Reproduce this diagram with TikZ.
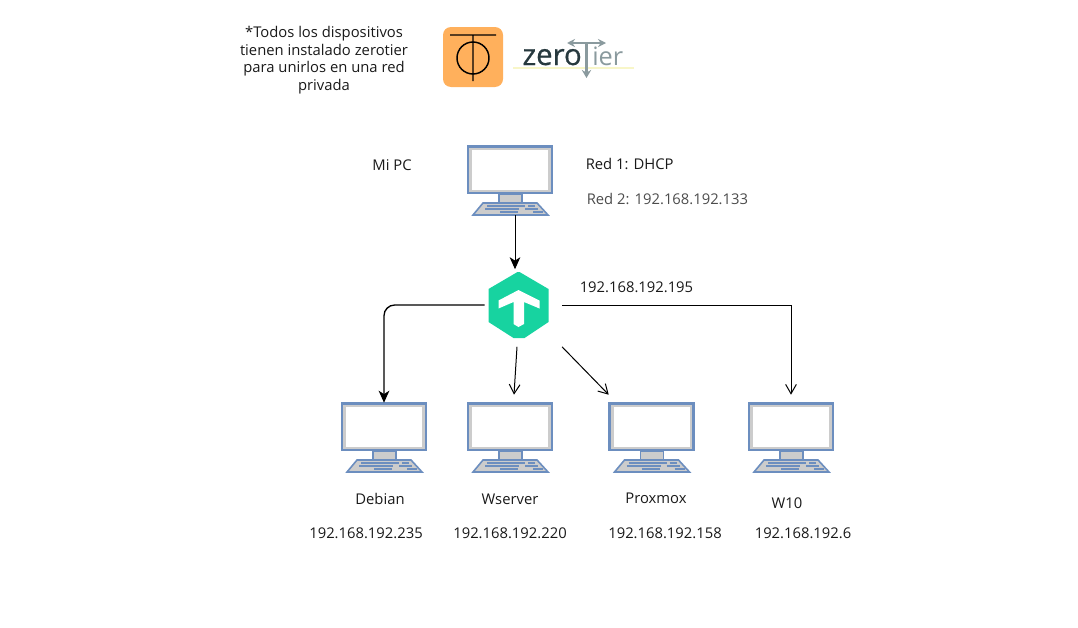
\documentclass[tikz,border=0pt]{standalone}
\usepackage{fontspec}
\setmainfont{Open Sans}
\usetikzlibrary{arrows.meta}
\definecolor{screenblue}{HTML}{6C8EBF}
\definecolor{screengray}{HTML}{CCCCCC}
\definecolor{hubgreen}{HTML}{17D3A0}
\definecolor{logoorange}{HTML}{FFB05C}
\definecolor{logodark}{HTML}{27393E}
\definecolor{logogray}{HTML}{8A9A9E}
\definecolor{logoyellow}{HTML}{F8F6C8}

\begin{document}
\begin{tikzpicture}[
    x=0.75pt, y=-0.75pt,
    every node/.style={font=\fontsize{11.1pt}{13.1pt}\selectfont, text=black!90},
    computer/.style={minimum width=64.5pt, minimum height=51.75pt, inner sep=0pt, text=white},
    hub/.style={minimum width=45.75pt, minimum height=50.25pt, inner sep=0pt},
    line/.style={black, line width=0.75pt},
    filledtip/.style={line, -{Stealth[length=9pt, width=8pt, inset=2.5pt]}},
    opentip/.style={line, -{Straight Barb[length=7pt, width=8pt]}},
    monitor/.pic={
        \draw[screenblue, line width=1.9pt, fill=screengray] (-42,-34) rectangle (42,12.5);
        \fill[white] (-38,-31) rectangle (38,9.5);
        \draw[screenblue, line width=1.2pt, fill=screengray] (-11,13.5) rectangle (12,22.5);
        \draw[screenblue, line width=1.2pt, fill=screengray] (-27,22.5) -- (27,22.5) -- (38,34.5) -- (-37,34.5) -- cycle;
        \draw[screenblue, line width=0.9pt] (-23,25.5) -- (15,25.5) (18,25.5) -- (25,25.5)
            (-25,28.5) -- (9,28.5) (15,28.5) -- (28,28.5)
            (-10,31.5) -- (8,31.5) (23,31.5) -- (33,31.5);
    },
    hubmark/.pic={
        \fill[hubgreen] (-30,-16) -- (-1,-33) -- (1,-33) -- (30,-16) -- (30,17) -- (6,33) -- (-5,33) -- (-30,17) -- cycle;
        \fill[white] (0,-15) -- (21,-4.5) -- (21,3.5) -- (5.5,-3) -- (5.5,19) -- (0,22) -- (-5,19) -- (-5,-3) -- (-20,3.5) -- (-20,-4.5) -- cycle;
    }
]
\useasboundingbox (0,0) rectangle (1078,628);

% Logos
\fill[logoorange, rounded corners=6pt] (443,27) rectangle (503,87);
\draw[black, line width=1.1pt] (450,35) -- (496,35) (473,35) -- (473,81) (473,58) circle (16);
\draw[logoyellow, line width=0.8pt] (513,68) -- (634,68);
\draw[logogray, line width=1.5pt, {Stealth[length=6pt, width=6pt]}-{Stealth[length=6pt, width=6pt]}] (567,43) -- (606,43);
\draw[logogray, line width=2pt, -{Stealth[length=6pt, width=7pt]}] (586.5,43) -- (586.5,78);
\node[inner sep=0pt, anchor=base east, text=logodark, font=\fontsize{22pt}{22pt}\selectfont\addfontfeature{FakeBold=0.7}] (zero) at (582,65) {zero};
\node[inner sep=0pt, anchor=base west, text=logogray, font=\fontsize{19pt}{22pt}\selectfont] (ier) at (592,65) {ier};

% Textos
\node[align=center] (nota) at (324,60) {*Todos los dispositivos\\tienen instalado zerotier\\para unirlos en una red\\privada};
\node (mipc) at (392,165) {Mi PC};
\node[anchor=west, inner sep=0pt] (red1) at (585.5,163.5) {Red 1: DHCP};
\node[anchor=west, inner sep=0pt, text=black!70] (red2) at (586.5,198.5) {Red 2: 192.168.192.133};
\node[anchor=west, inner sep=0pt] (hubip) at (579.5,287) {192.168.192.195};

% Equipos
\node[computer] (pc) at (510,180.5) {};
\node[computer] (debian) at (384,437.5) {};
\node[computer] (wserver) at (510,437.5) {};
\node[computer] (proxmox) at (651.5,437.5) {};
\node[computer] (wdiez) at (791,437.5) {};
\foreach \name in {pc,debian,wserver,proxmox,wdiez}
    \pic at (\name) {monitor};

\node[hub] (zt) at (518.5,305) {};
\pic at (zt) {hubmark};

\node (debianname) at (380,499) {Debian};
\node (wservername) at (510,499) {Wserver};
\node (proxmoxname) at (656,498) {Proxmox};
\node (wdiezname) at (787,503) {W10};
\node (debianip) at (366,533) {192.168.192.235};
\node (wserverip) at (510,533) {192.168.192.220};
\node (proxmoxip) at (665,533) {192.168.192.158};
\node (wdiezip) at (803,533) {192.168.192.6};

% Conexiones
\draw[filledtip] ([xshift=3.75pt]pc.south) -- ([shift={(-3.5,-2)}]zt.north);
\draw[filledtip, line width=1pt, rounded corners=8pt] ([xshift=-2.25pt]zt.west) -| (debian.north);
\draw[opentip] ([shift={(-1.5,8)}]zt.south) -- ([shift={(4,-8)}]wserver.north);
\draw[opentip] ([shift={(43.5,8)}]zt.south) -- ([shift={(0.5,-8)}]proxmox.north west);
\draw[opentip] ([xshift=9.75pt]zt.east) -| ([yshift=6pt]wdiez.north);
\end{tikzpicture}
\end{document}
